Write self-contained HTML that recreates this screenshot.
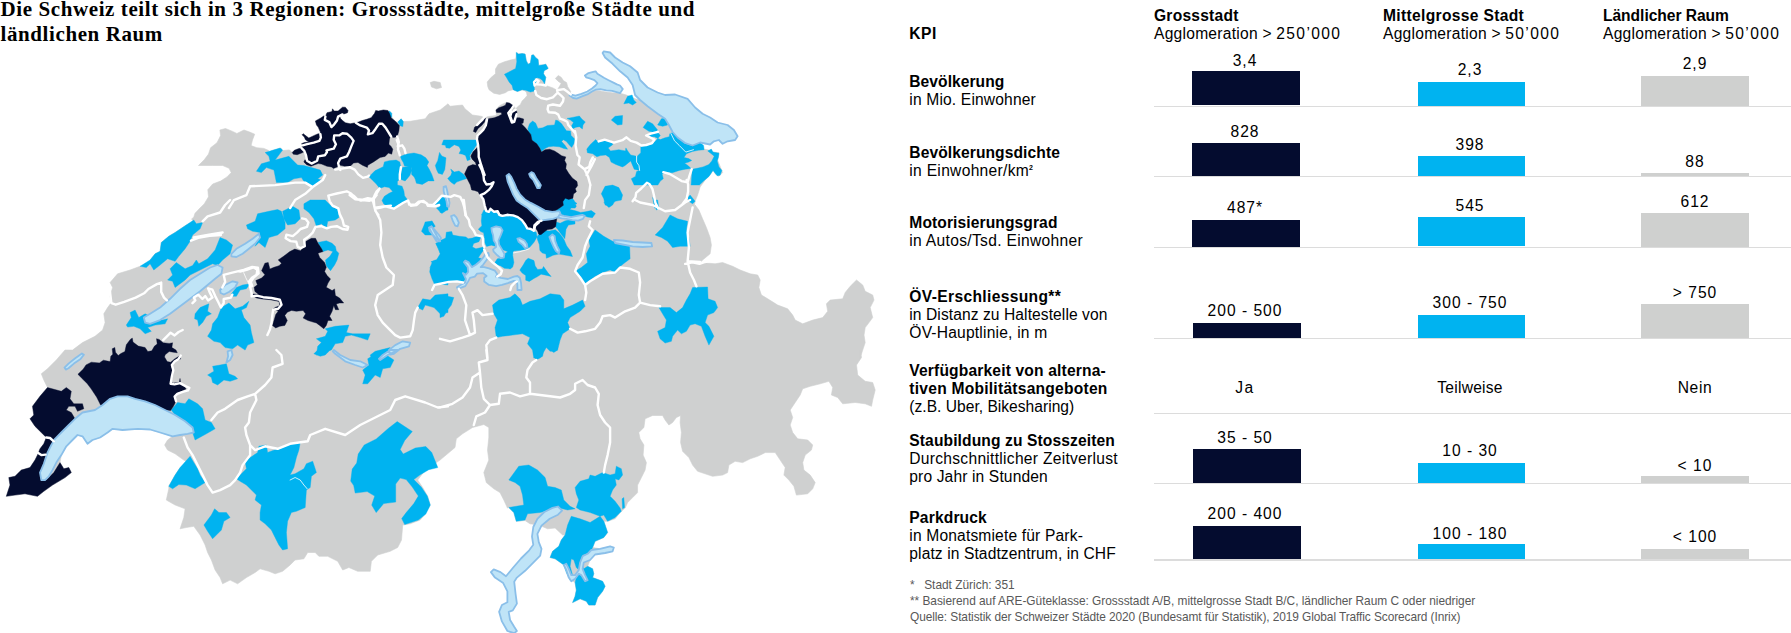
<!DOCTYPE html>
<html lang="de"><head><meta charset="utf-8"><title>Die Schweiz teilt sich in 3 Regionen</title>
<style>
html,body{margin:0;padding:0;background:#fff;}
body{width:1791px;height:633px;position:relative;overflow:hidden;font-family:"Liberation Sans",sans-serif;color:#000;}
.title{position:absolute;font-family:"Liberation Serif",serif;font-weight:bold;font-size:21px;line-height:24.4px;letter-spacing:0.6px;white-space:nowrap;color:#000;}
.t{position:absolute;font-size:15.6px;line-height:18px;white-space:nowrap;letter-spacing:0.3px;}
.t.b{font-weight:bold;letter-spacing:0.3px;}
.t.h2{letter-spacing:0.25px;}
.n{letter-spacing:1.35px;}
.t.v{text-align:center;letter-spacing:1px;}
.t.v.w{letter-spacing:0.3px;}
.sup{font-size:7px;position:relative;top:-6px;font-weight:bold;}
.ln{position:absolute;left:1154px;width:637px;height:1.4px;background:#dcdcdc;}
.bar{position:absolute;}
.dk{background:#040c2f;}
.bl{background:#00b3f0;}
.gr{background:#cfd0cf;}
.fn{position:absolute;font-size:11.9px;line-height:14px;white-space:nowrap;color:#585858;}
#map{position:absolute;left:0;top:0;width:900px;height:633px;}
</style></head><body>
<svg id="map" width="900" height="633" viewBox="0 0 900 633">
<path fill="#cfd0d0" stroke="#cfd0d0" stroke-width="0.6" stroke-linejoin="round" d="M200 208 L204.2 203.9 L208.5 196.8 L207.8 189.7 L212.7 184 L220.6 181.1 L227 176.9 L231.2 172.6 L229.1 168.3 L222.7 165.5 L212.7 165.5 L198.5 165.5 L204.2 159.8 L208.5 154.1 L210.6 147.7 L217 142.7 L220.6 135.6 L219.9 130 L225.5 128.5 L232.6 131.4 L236.9 133.5 L244 130 L249.7 132.1 L254.7 134.2 L252.5 139.9 L251.1 145.6 L256.8 147.7 L263.9 148.4 L268.9 150.6 L264.6 154.1 L272.4 150.6 L281 148.1 L282.4 150.6 L289.5 149.9 L292.3 152.7 L292.2 152.5 L294.4 150.3 L298.3 148.7 L301.6 148.1 L302.7 145.3 L301.6 143.7 L304.3 142.6 L308.8 142 L305.5 139.8 L304.3 137 L302.1 134.8 L303.2 133.7 L308.8 138.1 L314.3 135.4 L318.2 133.7 L320.4 134.3 L320.4 132.1 L318.2 127.1 L316.5 124.9 L315.4 121 L320.4 118.2 L323.7 116 L325.4 116.6 L327 112.7 L332 111.6 L332.5 108.8 L334.2 111.1 L338.1 111.1 L342.5 107.2 L345.3 107.2 L348 110.5 L347.5 112.7 L342.5 114.4 L339.7 115.5 L340.3 118.2 L342.5 120.5 L345.3 122.7 L350.2 123.8 L355.8 122.7 L358.5 122.1 L362.4 120.5 L366.8 119.3 L371.2 117.7 L374.6 113.3 L375.7 110.5 L378.4 111.1 L383.4 110 L387.8 110.5 L389.5 111.1 L391.7 113.3 L391.7 117.1 L395.6 121.6 L397.8 122.1 L401.1 118.8 L403.3 121.6 L410.2 121.3 L425.2 118.8 L429 113.8 L440.2 110 L448 103.8 L450 106.3 L462.5 105 L465 108.8 L472.5 115 L481.3 116.3 L483.8 117.5 L490 116.3 L496.3 115.5 L496.1 109.2 L499.6 105.7 L505.5 102.7 L510.9 103.9 L514.4 106.3 L515.6 109.2 L517.4 106.9 L520.4 104.5 L522.1 100.9 L525.1 98 L527.1 95.6 L526.6 92.7 L525.1 90.9 L522.1 89.9 L517.4 91.5 L513.2 89.7 L507.9 90.9 L505.5 92.7 L499.6 94.4 L493.7 93.2 L489 89.7 L487.8 86.7 L487.2 82 L490.7 77.8 L495.5 73.7 L495.5 69 L498.4 64.2 L504.4 61.8 L510.3 60.1 L515.6 58.9 L516.8 52.4 L518.6 54.1 L522.1 53.6 L525.1 54.1 L526.3 60.7 L528.1 64.2 L530.4 63 L531.6 55.3 L533.4 54.7 L535.8 57.7 L538.1 59.5 L538.7 65.4 L543.5 64.8 L545.8 64.2 L548.2 68.4 L544.1 70.7 L543.5 73.7 L545.8 77.3 L544.6 83.8 L545.8 85.5 L552.9 87.9 L557.1 90.3 L560 85.5 L561.2 83.2 L558.3 81.4 L555.3 78.4 L558.3 75.5 L561.2 77.3 L563.6 80.8 L566.6 82.6 L567.7 86.7 L570.7 91.5 L570.1 94.4 L576.6 97.4 L582.6 95.6 L588.5 92.7 L594.4 90.3 L600.3 90.9 L606.3 92.1 L612.2 92.7 L620 93.2 L626.3 95 L635.1 98.8 L640.1 100 L647.6 106.3 L657.6 113.8 L665.1 118.8 L668.9 125 L672.6 132.5 L677.6 137.5 L685.1 143.8 L692.6 146.3 L700.1 143.8 L702.6 148.8 L708.9 150.1 L712.6 152.1 L718.9 152.6 L717.6 160.1 L720.6 167.6 L722.6 172.6 L718.9 176.3 L715.1 173.8 L713.1 170.1 L710.1 175.1 L705.1 180.1 L700.1 187.1 L697.6 195.1 L695.1 201.3 L693.9 208.1 L695.1 205 L698.9 210 L702.6 218.8 L706.4 227.5 L710.1 237.5 L711.4 245 L710.1 253.8 L702.6 260 L700.1 262.5 L715.1 263.8 L722.6 262.5 L732.6 266.3 L740.2 270 L750.2 273.8 L757.7 275 L760.2 280 L758.9 287.5 L761.4 295 L767.7 298.8 L777.7 305.1 L787.7 308.8 L792.7 315.1 L795.2 320.1 L802.7 323.8 L812.7 320.1 L822.7 317.6 L827.7 311.3 L826.4 303.8 L830.2 300.1 L842.7 298.8 L845.2 292.5 L850.2 286.3 L856.5 280 L862.7 285 L865.2 291.3 L872.7 295 L874 300.1 L870.2 307.6 L872.7 317.6 L869 322.6 L865.2 327.6 L864 335.1 L865.2 342.6 L862.7 350.1 L860.2 358.1 L860.2 350 L861.5 357.5 L856.5 365 L857.7 375 L865.2 381.3 L872.7 382.5 L875.2 390 L872.7 400 L871.5 406.3 L865.2 403.8 L855.2 402.5 L842.7 403.8 L837.7 397.5 L831.4 395 L832.7 387.5 L828.9 381.3 L820.2 383.8 L810.2 386.3 L802.7 388.8 L800.2 395 L795.2 402.5 L790.2 410 L792.7 417.5 L790.2 425 L792.7 432.5 L797.7 438.8 L807.7 440 L812.7 445 L811.4 450.1 L805.2 455.1 L802.7 462.6 L803.9 470.1 L810.2 475.1 L815.2 482.6 L812.7 488.8 L807.7 493.8 L796.4 495.1 L793.9 486.3 L788.9 480.1 L783.9 475.1 L785.2 467.6 L780.2 460.1 L775.2 452.6 L765.2 452.6 L757.7 456.3 L750.2 458.8 L742.7 462.6 L735.1 461.3 L728.9 465.1 L727.6 472.6 L722.6 475.1 L712.6 476.3 L705.1 473.8 L697.6 471.3 L692.6 465.1 L688.9 457.6 L682.6 451.3 L680.6 442.5 L681.4 432.5 L680.1 422.5 L680.6 415.5 L676.4 417.5 L672.6 422.5 L668.9 425 L665.1 420 L662.6 415.5 L652.6 415.5 L645.1 418.8 L643.9 427.5 L638.8 432.5 L640.1 438.8 L643.9 445 L643.1 455.1 L646.4 462.6 L645.1 470.1 L641.4 477.6 L637.6 485.1 L637.6 492.6 L632.6 497.6 L627.6 502.6 L625.1 508.1 L625.1 508 L620.1 512.5 L615.1 518.8 L607.6 521.3 L603.8 521.3 L605.1 525 L607.6 532.5 L603.8 537.5 L595.1 541.3 L592.6 547.5 L600.1 548.8 L610.1 546.3 L613.8 547.5 L612.6 551.3 L605.1 553 L595.1 554.5 L590.1 560 L587.6 566.3 L592.6 568.8 L593.8 573.8 L592.6 577.6 L602.6 581.3 L605.1 586.3 L602.6 591.3 L597.6 597.6 L595.1 605.1 L588.8 605.1 L586.3 601.3 L580.1 598.8 L572.6 602.6 L575.1 596.3 L576.3 590.1 L575.1 582.6 L571.3 580.1 L568.8 573.8 L565.1 566.3 L562.6 563.8 L555.1 558.8 L550.1 557.5 L552.6 551.3 L558.8 546.3 L561.3 540 L565.1 535 L562.6 535 L555.1 528 L547.6 528.8 L538.8 525 L530 523.8 L525 520.5 L516.3 521.3 L513.8 512.5 L508.8 507.5 L507.5 508.1 L503.8 500.1 L500 492.6 L493.8 488.8 L486.3 482.6 L483.8 472.6 L488.8 460.1 L487.5 450.1 L488.8 437.5 L488.8 427.5 L483.8 424.5 L472.5 427.5 L462.5 433.8 L456.3 438.8 L455 447.5 L447.5 453.8 L440 460.1 L425.2 470 L417.7 480 L422.7 487.5 L427.7 496.3 L430.2 505 L425.2 513.8 L420.2 520 L410.2 523.8 L402.7 525 L401.5 540 L397.7 547.5 L390.2 551.3 L377.7 555 L371.4 561.3 L370.2 571.3 L357.7 571.3 L348.9 567.5 L342.7 570 L337.7 561.3 L327.7 556.3 L318.9 556.3 L315.2 552.5 L307.7 552.5 L303.9 558.8 L295.1 560 L290.1 565 L282.6 571.3 L275.1 573.8 L268.9 571.3 L260.1 568.8 L255.1 572.5 L246.4 577.6 L237.6 583.8 L230.1 580.1 L222.6 583.8 L220.1 577.6 L215.1 570 L211.4 560 L207.6 552.5 L205.1 545 L200.1 535 L193.8 526.3 L186.3 527.5 L180.1 528.8 L183.8 517.5 L185.1 508.8 L175.1 505 L166.3 500 L168.8 488.8 L168.8 486.3 L175.1 475.1 L180.1 467.6 L188.8 462.6 L183.8 460.1 L175.1 453.8 L167.6 450.1 L164.6 445 L167.6 440 L172.6 436.3 L160.1 432.5 L150.1 429.5 L137.6 428.8 L122.6 430 L112.6 428.8 L107.6 432.5 L100.1 437.5 L92.5 440 L87.5 443.8 L82.5 436.3 L77.5 435 L72.5 440 L66.3 446.3 L61.3 455.1 L60 462.6 L63.8 468.8 L68.8 467.6 L71.3 472.6 L65 477.6 L52.5 485.1 L43.8 491.3 L37.5 496.3 L25 493.8 L15 495.1 L6.3 496.3 L10 485.1 L8.8 477.6 L15 476.3 L21.3 470.1 L30 467.6 L35 460.1 L37.5 455.1 L40 448.8 L43.8 443.8 L46.3 437.5 L41.3 432.5 L35 426.3 L30 418.8 L33.8 415 L32.5 406.3 L40 396.3 L47.5 387.5 L43.8 380 L41.3 373.8 L47.5 368.8 L56.3 360 L65 350 L72.5 350.1 L82.5 342.6 L95 336.3 L102.6 330.1 L105.1 322.6 L103.8 313.8 L107.6 307.6 L111.3 302.6 L110.1 296.3 L112.6 287.5 L110.1 282.5 L117.6 273.8 L130.1 270 L140.1 266.3 L146.3 267 L150.1 260 L155.1 253.8 L160.1 251.3 L161.3 242.5 L168.8 236.3 L175.1 232.5 L186.3 225 L193.8 221.3 L191.5 219.2 L193.8 216.9 L195 213.3Z M430.2 82.5 L434 81.3 L440.2 82.5 L441.5 87.5 L436.5 88.8 L431.5 87Z"/>
<path fill="#00b3f0" stroke="#00b3f0" stroke-width="0.4" stroke-linejoin="round" d="M265.1 152.6 L280.1 148 L282.6 150.1 L275.1 160.1 L288.9 156.3 L295.1 162.6 L297.6 165.1 L303.9 165.6 L311.4 167.6 L320.2 170.1 L322.7 175.1 L317.7 178.8 L321.4 180.1 L312.7 186.3 L303.9 181.3 L301.4 177.6 L293.9 178.8 L287.6 182.6 L276.4 182.6 L273.9 170.1 L266.4 167.6 L261.4 172.6 L256.4 171.3 L261.4 163.8 L270.1 161.3 L268.9 156.3Z M611.3 120 L615.1 116.3 L622.6 115.5 L622.1 124.5 L617.6 125Z M623.8 103.8 L627.6 96.3 L632.1 95 L633.8 100 L636.3 102.5 L632.6 105 L628.8 103Z M643.1 127.5 L647.6 121.3 L652.6 123.8 L657.6 130 L655.1 132.5 L648.9 131.3Z M657.6 125 L661.4 118.8 L666.4 118 L667.6 125 L662.6 126.3Z M601.3 193.8 L605.1 186.3 L612.6 185.1 L618.8 187.6 L622.6 195.1 L621.3 200.1 L615.1 201.3 L610.1 206.3 L605.1 205.1 L603.8 198.8Z M687.6 197.6 L690.1 195.1 L695.1 201.3 L692.6 203.8 L688.9 201.3Z M655.1 200.1 L657.6 208.1 L654.6 208.1 L652.6 197.6Z M562.6 200.1 L567.6 197.6 L573.8 200.1 L576.3 206.3 L575.1 208.1 L563.8 208.1Z M140.1 266.3 L150.1 260 L155.1 253.8 L160.1 251.3 L161.3 242.5 L168.8 236.3 L175.1 232.5 L186.3 225 L193.8 220 L196.3 223.8 L202.6 222.5 L200.1 228.8 L192.6 235 L190.1 241.3 L185.1 248.8 L178.8 256.3 L175.1 261.3 L167.6 258.8 L160.1 265 L153.8 270 L150.1 263.8 L146.3 267.5Z M167.6 280 L172.6 275 L170.1 268.8 L176.3 262.5 L185.1 268.8 L192.6 265.5 L196.3 260 L198.8 263.8 L207.6 258.8 L215.1 250 L220.1 237.5 L226.4 240 L232.6 245 L230.1 253.8 L222.6 260 L217.6 265.5 L212.6 263.8 L205.1 267.5 L197.6 271.3 L190.1 275 L185.1 280 L175.1 287.5 L172.6 281.3Z M246.4 225 L255.1 221.3 L257.6 213.8 L268.9 211.3 L277.6 209.5 L281.4 211.3 L285.1 222.5 L285.1 228.8 L277.6 235 L268.9 237.5 L265.1 247.5 L258.9 242.5 L255.1 246.3 L260.1 232.5 L252.6 231.3 L247.6 228.8Z M282.6 211.3 L292.6 206.3 L298.9 210 L300.2 218.8 L295.1 223.8 L287.6 225 L283.9 218.8Z M303.9 203.8 L310.2 200 L325.2 200 L332.7 207.5 L337.7 208.8 L338.9 217.5 L335.2 220 L327.7 221.3 L326.4 228.8 L321.4 223.8 L316.4 226.3 L313.9 218.8 L308.9 212.5 L303.9 208.8Z M126.3 325.1 L131.3 317.6 L130.1 312.6 L135.1 310.1 L138.8 317.6 L145.1 313.8 L152.6 317.6 L162.6 320.1 L167.6 318.8 L165.1 323.8 L155.1 325.1 L147.6 327.6 L151.3 331.3 L145.1 333.8 L140.1 328.8 L133.8 326.3 L127.6 327.1Z M195.1 313.8 L200.1 307.6 L208.9 303.8 L207.6 311.3 L211.4 313.8 L206.4 316.3 L202.6 322.6 L198.8 326.3 L197.6 320.1 L194.6 318.8Z M231.4 293.8 L236.4 287.5 L242.6 285 L250.1 283.8 L246.4 288.8 L240.1 290 L236.4 296.3 L232.6 296.3Z M221.4 307.6 L228.9 303.1 L235.1 308.8 L242.6 306.3 L248.9 301.3 L246.4 307.6 L241.4 310.1 L243.9 317.6 L250.1 325.1 L251.4 332.6 L253.9 342.6 L247.6 345.1 L245.1 350.1 L237.6 345.1 L232.6 348.8 L225.1 347.6 L220.1 342.6 L213.9 341.3 L207.6 336.3 L211.4 330.1 L212.6 323.8 L217.6 317.6Z M325.2 328.8 L335.2 326.3 L348.9 325.1 L346.4 332.6 L352.7 333.8 L370.2 333.8 L367.7 340.1 L360.2 337.6 L351.4 335.1 L345.2 336.3 L342.7 342.6 L335.2 343.8 L331.4 350.1 L325.2 351.3 L316.4 355.1 L317.7 346.3 L321.4 342.6 L316.4 338.8 L325.2 336.3 L327.7 331.3Z M402.7 200 L397.7 203.8 L390.2 206.3 L383.9 201.3Z M435.2 203.8 L440.2 200 L448 200 L448 210 L442.7 211.3 L440.2 206.3Z M421.5 231.3 L425.2 222.5 L431.5 221.3 L435.2 226.3 L430.2 227.5 L432.7 235 L425.2 235Z M436.5 243.8 L448 241.3 L448 285 L437.7 283.8 L432.7 277.5 L430.2 267.5 L436.5 260 L440.2 253.8Z M417.7 307.6 L422.7 298.8 L430.2 300.1 L435.2 295 L448 293.8 L448 312.6 L440.2 313.8 L434 307.6 L425.2 305.1 L422.7 310.1Z M370.2 355.1 L375.2 351.3 L385.2 348.8 L390.2 347.6 L385.2 353.8 L380.2 358.1 L371.4 358.1Z M595.1 230 L603.8 236.3 L612.6 241.3 L622.6 242.5 L629.6 245 L630.1 258.8 L625.1 262.5 L618.8 267.5 L615.1 272.5 L610.1 270 L602.6 272.5 L595.1 276.3 L590.1 280 L585.1 285 L580.1 277.5 L575.1 271.3 L581.3 267.5 L587.6 262.5 L586.3 253.8 L590.1 246.3 L588.8 240Z M655.1 235 L662.6 227.5 L670.1 215 L677.6 218.8 L687.6 221.3 L686.4 230 L688.9 237.5 L690.1 246.3 L680.1 246.3 L672.6 247.5 L667.6 241.3 L661.4 237.5Z M692.6 287.5 L707.6 287 L708.1 298.8 L715.1 301.3 L717.6 307.6 L713.9 312.6 L707.6 315.1 L705.1 322.6 L708.9 326.3 L713.9 336.3 L708.9 345.1 L705.1 336.3 L701.4 326.3 L695.1 323.8 L690.1 325.1 L686.4 331.3 L681.4 333.8 L677.6 330.1 L672.6 336.3 L671.4 341.3 L665.1 343.1 L660.1 338.8 L657.6 331.3 L665.1 327.6 L666.4 320.1 L662.6 313.8 L658.9 307.6 L670.1 307.6 L676.4 312.6 L682.6 307.6 L686.4 300.1 L690.1 293.8Z M492.5 305.1 L498.8 300.1 L510 297.5 L515 293.8 L520 298.8 L522.5 305.1 L530 301.3 L540.1 298.8 L550.1 293.8 L560.1 295 L563.8 300.1 L563.8 308.8 L572.6 305.1 L582.6 300.1 L585.1 306.3 L580.1 311.3 L570.1 317.6 L567.6 322.6 L570.1 328.8 L562.6 333.8 L560.1 340.1 L557.6 350.1 L550.1 351.3 L546.3 347.6 L540.1 358.1 L533.8 358.1 L532.5 350.1 L527.5 343.8 L530 337.6 L522.5 333.8 L512.5 335.1 L502.5 336.3 L496.3 337.6 L495 327.6 L497.5 320.1 L493.8 313.8Z M440 298.8 L447.5 296.3 L453.8 297.5 L451.3 305.1 L447.5 310.1 L443.8 316.3 L440 317.6Z M603.8 202.5 L607.6 200 L615.1 200 L612.6 205 L608.8 207.5Z M653.9 200 L657.6 200 L658.9 208.8 L656.4 210Z M440 201.3 L445 202.5 L446.3 210 L440 212.5Z M171.3 410 L177.6 402.5 L185.1 403.8 L188.8 398.8 L197.6 403.8 L202.6 408.8 L205.1 420 L211.4 422.5 L215.1 428.8 L206.4 433.8 L195.1 440 L192.6 432.5 L192.6 427.5 L185.1 421.3 L175.1 415Z M190.1 456.3 L193.8 462.6 L197.6 468.8 L200.1 475.1 L205.1 482.6 L195.1 488.8 L186.3 485.1 L178.8 484.6 L172.6 488.8 L168.8 486.3 L175.1 475.1 L180.1 467.6Z M207.6 375 L213.9 371.3 L212.6 366.3 L220.1 365 L226.4 363.8 L228.9 373.8 L235.1 376.3 L237.6 378.8 L230.1 381.3 L223.9 380 L217.6 385 L212.6 382.5 L211.4 377.5Z M313.9 353.8 L317.7 350 L330.2 350 L325.2 355 L320.2 356.3Z M362.7 383.8 L365.2 375 L362.7 370 L368.9 365 L367.7 358.8 L373.9 355 L382.7 350 L390.2 350 L386.4 355 L393.9 360 L390.2 367.5 L382.7 368.8 L380.2 377.5 L375.2 375 L367.7 383.8Z M533.8 350 L543.8 350 L542.6 356.3 L536.3 360 L533.8 355Z M550.1 350 L557.6 350 L553.8 352.5Z M203.9 525 L211.4 515 L214.6 508.8 L218.9 512.5 L226.4 512.5 L230.1 517.5 L223.9 521.3 L221.4 530 L212.6 538.8 L207.6 531.3Z M236.4 478.8 L246.4 468.7 L245.1 461.2 L257.6 452.5 L258.9 446.2 L266.4 445 L267.6 452.5 L277.6 448.7 L290.1 443.7 L300.2 442.5 L298.9 450 L296.4 457.5 L293.9 467.5 L290.1 475 L295.1 473.7 L303.9 468.7 L306.4 463.7 L312.7 461.2 L316.4 472.5 L311.4 476.3 L310.2 487.5 L306.4 490 L305.2 507.5 L296.4 511.3 L291.4 512.5 L287.6 521.3 L286.4 532.5 L287.6 548.8 L282.6 550 L278.9 545 L275.1 537.5 L271.4 530 L265.1 523.8 L260.1 520 L260.1 512.5 L261.4 505 L255.1 500 L256.4 495 L251.4 490 L246.4 485 L240.1 481.3Z M508.8 480 L518.8 466.2 L528.8 465 L537.5 470 L545.1 477.5 L547.6 486.3 L555.1 487.5 L561.3 490 L563.8 500 L570.1 506.3 L575.1 508.8 L567.6 510 L557.6 507.5 L550.1 510 L540.1 512.5 L527.5 513.8 L525 520 L516.3 521.3 L513.8 512.5 L508.8 507.5 L523.8 505 L522.5 495 L520 486.3 L515 482.5Z M575.1 487.5 L580.1 481.3 L588.8 478.8 L590.1 475 L595.1 476.3 L602.6 472.5 L610.1 475 L615.1 473.7 L616.3 466.2 L621.3 468.7 L622.6 475 L618.8 480 L615.1 478.8 L616.3 485 L612.6 490 L610.1 496.3 L615.1 501.3 L620.1 508 L621.3 511.3 L615.1 517.5 L607.6 521.3 L603.8 515 L600.1 516.3 L590.1 512.5 L580.1 510 L576.3 507.5 L578.8 500 L576.3 493.8Z M571.3 516.3 L580.1 518.8 L590.1 522.5 L600.1 516.3 L603.8 521.3 L605.1 525 L607.6 532.5 L603.8 537.5 L595.1 541.3 L592.6 547.5 L590.1 552.5 L582.6 555 L580.1 561.3 L583.8 568.8 L587.6 566.3 L592.6 568.8 L593.8 573.8 L592.6 577.6 L602.6 581.3 L605.1 586.3 L602.6 591.3 L597.6 597.6 L595.1 605.1 L588.8 605.1 L586.3 601.3 L580.1 598.8 L572.6 602.6 L575.1 596.3 L576.3 590.1 L575.1 582.6 L576.3 577.6 L580.1 571.3 L576.3 567.5 L573.8 560 L571.3 558.8 L570.1 566.3 L572.6 575.1 L570.1 580.1 L566.3 572.5 L563.8 565 L555.1 558.8 L550.1 557.5 L552.6 551.3 L558.8 546.3 L561.3 540 L565.1 535 L567.6 525Z M622.1 498.8 L623.8 497.5 L624.6 507.5 L622.6 508.8Z M369 176.7 L374.9 170.8 L383.2 166.7 L384.4 161.9 L389.1 160.7 L396.2 160.1 L399.8 161.9 L400.9 167.3 L399.2 174.4 L399.8 179.1 L397.4 181.5 L397.4 185 L402.1 186.2 L403.9 190.9 L404.5 195.7 L408.1 200.4 L403.3 202.8 L398.6 204.6 L393.8 208.7 L387.9 206.4 L383.8 204 L382 200.4 L384.4 196.3 L389.1 193.3 L392.7 191.5 L389.1 187.4 L384.4 186.8 L379.6 188.6 L377.8 192.1 L379 187.4 L376.1 183.8 L372.5 180.3Z M399.8 179.1 L400.9 172 L402.7 167.3 L408.1 166.7 L411 166.7 L411.6 170.8 L409.8 175.5 L406.9 179.1 L405.1 180.9Z M400.4 156.6 L405.7 154.2 L414 153 L421.1 154.8 L425.8 157.8 L428.8 161.9 L427 165.5 L429.4 169.6 L431.8 174.4 L434.1 180.9 L428.2 180.9 L422.3 184.4 L416.4 183.2 L415.2 179.1 L414 176.7 L411.6 174.4 L411.6 167.8 L409.2 166.7 L404.5 166.1 L403.3 162.5 L401.5 159.5Z M435.3 165.5 L437.7 160.7 L439.5 152.4 L441.8 156 L446 157.8 L445.4 163.7 L444.8 169.6 L442.4 174.4 L438.3 173.2 L436.5 169.6Z M450.7 169 L454.3 172 L459 171 L463.7 174.4 L466.7 178.5 L461.4 180.3 L456.6 182.1 L454.3 184.4 L450.7 182.1 L447.7 178.5 L450.7 175.5 L451.9 172.6Z M433.5 204.6 L437.7 200.4 L441.8 195.7 L444.8 198.1 L447.7 197.5 L448.3 202.8 L444.8 206.4 L445.4 211.1 L441.8 213.5 L438.3 209.9 L436.5 208.1 L440.6 206.4 L440 204.6Z M441.8 144.7 L443.6 140 L477.4 140 L477.4 143.6 L474.4 148.3 L472 151.8 L469.7 155.4 L470.3 159.5 L467.3 160.7 L465.5 155.4 L462.6 154.2 L459 153.6 L460.8 150.1 L459 146.5 L454.3 144.7 L449.5 148.3 L446 147.7 L445.4 145.3Z M481.5 215 L483.9 209.9 L487.4 212.3 L491 208.1 L495.7 211.7 L498.1 215Z M516.2 52.4 L518.6 54.1 L522.1 53.6 L525.1 54.1 L526.3 60.7 L528.1 64.2 L530.4 63 L531.6 55.3 L533.4 54.7 L535.8 57.7 L538.1 59.5 L538.7 65.4 L543.5 64.8 L545.8 64.2 L548.2 68.4 L544.1 70.7 L543.5 73.7 L545.8 77.3 L544.6 83.8 L542.3 80.2 L539.9 78.4 L537.5 77.8 L534.6 78.4 L536.4 82 L534 85 L534.6 90.9 L530.4 92.1 L525.7 90.3 L522.1 89.7 L517.4 91.5 L513.2 89.7 L512.1 85.5 L509.1 82 L506.7 77.8 L504.4 74.3 L510.3 71.3 L515.6 68.4 L516.8 61.8Z M586.8 149.1 L590.4 144.4 L595.7 139.6 L598.1 142 L604.6 141 L610.5 140.8 L612.9 144.4 L608.2 147.9 L610.5 150.9 L618.8 149.7 L625.4 150.9 L625.9 147.9 L627.7 150.9 L630.7 155 L636.6 156.2 L636.6 162.1 L639 165.7 L639.6 170.4 L634.2 169.2 L630.7 160.9 L624.8 165.7 L622.4 166.9 L615.9 164.5 L611.1 162.1 L609.4 157.4 L605.8 155 L600.5 155.6 L596.9 156.8 L592.8 153.8 L587.4 152.7Z M640.8 146.7 L646.1 145.5 L652 144.4 L655.6 140.8 L657.9 138.4 L660.3 139.6 L665 137.8 L669.2 136.7 L669.8 133.7 L672.7 132.5 L677.5 137.5 L684.6 143.5 L692.3 146.1 L699.4 142 L703.6 145.5 L704.1 149.7 L698.2 150.3 L692.3 151.5 L686.4 153.8 L684 157.4 L688.7 158.6 L691.7 160.4 L688.7 162.1 L684.6 163.3 L688.2 165.7 L691.1 168.6 L685.2 169.2 L679.3 170.4 L672.2 172.8 L665 172.2 L662.1 174 L663.3 178.7 L660.3 181.1 L657.9 185 L634.2 185 L631.3 178.7 L635.4 176.4 L636.6 171.6 L639.6 170.4 L639 165.7 L636.6 162.1 L637.2 156.2 L640.8 152.7Z M649.1 135.5 L653.2 133.1 L657.9 132.5 L660.3 135.5 L657.9 138.4 L654.4 136.7 L650.8 136.7Z M707.7 150.9 L711.3 149.1 L713 152.1 L719 153.2 L718.4 157.4 L717.2 160.9 L719 166.9 L721.9 170.4 L720.1 175.2 L717.2 175.8 L713 170.4 L708.9 176.4 L703.6 181.1 L699.4 185 L691.1 185 L691.7 176.4 L692.3 169.2 L698.2 168.1 L703 166.9 L708.9 164.5 L711.8 160.9 L714.2 156.2 L711.3 153.8Z M435.7 243.4 L440.4 240.5 L445.7 238.1 L446.3 232.2 L451.7 231.6 L452.8 235.1 L459.4 236.3 L465.9 236.9 L468.2 238.7 L472.4 238.1 L477.1 236.3 L480.7 237.5 L478.9 241.7 L473.6 243.4 L472.4 247 L475.9 248.8 L483.6 247 L484.2 249.4 L480.7 254.1 L478.3 257.7 L481.9 258.8 L478.3 262.4 L474.8 265.9 L471.2 267.1 L468.8 262.4 L465.3 260.6 L462.9 261.8 L467.1 265.9 L468.2 271.9 L465.9 275.4 L462.9 273.1 L465.3 279 L462.9 282.5 L457 281.4 L448.7 281.9 L440.4 283.7 L434.5 284.3 L432.1 279 L429.7 271.9 L430.3 267.1 L432.1 262.4 L430.9 261.8 L438 258.8 L441.6 256.5 L439.2 250.5Z M481.9 215 L497.3 215 L500.8 216.8 L507.9 216.2 L515 216.2 L519.8 218.6 L523.3 222.1 L525.7 226.8 L531.6 228 L536.4 232.8 L537 236.9 L534 242.3 L529.9 247 L525.7 249.4 L518.6 250.5 L513.3 251.1 L507.9 251.7 L502 249.4 L496.1 246.4 L491.4 245.2 L486.6 246.4 L484.8 242.8 L484.2 236.3 L483.6 232.8 L480.7 231.6 L478.3 229.2 L481.9 225.7 L481.3 220.9Z M494.9 262.4 L497.3 258.8 L500.8 258.2 L503.8 257.7 L504.4 254.1 L507.9 251.7 L513.3 251.1 L512.7 255.3 L513.9 262.4 L512.7 267.1 L510.3 268.9 L504.4 268.3 L500.8 265.9 L497.3 264.8Z M537 236.9 L538.7 234.5 L544.7 230.4 L549.4 231 L555.3 229.8 L558.9 232.8 L562.4 236.9 L564.2 239.9 L566.6 245.8 L570.1 250.5 L572.5 256.5 L566 255.3 L558.9 254.1 L553 255.3 L549.4 257.1 L546.4 258.2 L545.9 254.1 L542.3 252.9 L539.9 250.5 L539.3 244.6 L537.6 239.9Z M519.8 270.1 L523.3 264.8 L525.7 260.6 L528.1 258.2 L534 260.6 L535.2 265.9 L537.6 269.5 L542.3 268.9 L543.5 266.5 L548.2 273.1 L551.2 276.6 L547 275.4 L541.1 274.2 L537.6 276.6 L534 278.4 L529.3 281.4 L525.7 280.2 L525.7 275.4 L522.2 273.1Z M425 222.1 L429.7 221.5 L432.1 220.9 L435.1 226.3 L433.3 228 L430.3 226.8 L428.6 231.6 L425 234.5Z M556.5 222.1 L560.1 223.3 L564.8 220.9 L569.5 219.7 L575 220.3 L575 223.9 L568.4 225.1 L566 229.2 L565.4 234 L564.8 238.7 L560.1 232.8 L557.7 229.2 L555.3 226.8Z M386.7 113.3 L389.5 111.1 L391.7 113.3 L391.7 117.1 L388.9 118.2Z M397.8 122.1 L401.1 118.8 L403.3 121.6 L402.8 126.5 L400.5 126Z M527.9 128.4 L529.6 123.7 L532.6 121.1 L535.6 123.1 L537.9 128.4 L542.7 127.8 L547.4 125.5 L554.5 124.9 L555.7 120.1 L558.1 120.7 L561.6 123.7 L564 127.3 L566.4 130.8 L570.5 131 L571.1 135.5 L574.7 139.1 L574.1 143.2 L571.7 147.4 L569.3 145 L566.4 141.5 L563.4 139.7 L561.6 141.5 L565.2 145.6 L567.6 149.2 L564 148.6 L559.3 146.8 L553.3 146.2 L548.6 146.8 L545 148.6 L541.5 151.5 L539.7 147.4 L536.8 143.8 L532 140.3 L530.8 134.4 L528.5 131.4Z M567 118.4 L573.5 117.2 L579.4 116 L581.8 119 L585.3 121.9 L583 124.9 L582.4 129 L579.4 126.7 L575.9 127.3 L572.3 129 L571.7 125.5 L573.5 122.5 L570.5 120.1Z M563.4 198.2 L567.6 198.8 L572.3 198.2 L574.7 201.7 L577 203.5 L572.3 206.5 L569.9 209.4 L574.7 210.6 L580.6 212.4 L585.3 211.8 L591.3 210.6 L595.4 213.6 L592.4 217.7 L587.7 217.1 L584.7 215.9 L582.4 214.8 L577 215.9 L571.1 217.1 L564 215.9 L560.5 213.6 L559.3 211.2 L555.7 210.6 L559.3 208.2 L563.4 205.3 L562.8 201.7Z M318 242.4 L326.3 240.8 L332.1 243.3 L335.4 246.6 L336.3 250.7 L338.8 253.2 L337.1 259.9 L334.6 264.9 L330.5 270.7 L326.3 265.7 L325.5 259.9 L329.6 256.6 L332.9 251.6 L328 249.9 L323 251.6 L321.3 248.3Z M397.2 421.6 L412.3 431.5 L404.7 440.5 L400.2 449.5 L403.2 454.1 L415.3 448 L425.8 446.5 L431.8 452.6 L437.8 467.6 L428.8 469.7 L419.8 475.1 L413.8 479.6 L421.3 487.1 L427.3 496.1 L430.3 505.1 L425.8 514.1 L418.3 520.1 L404.7 524.6 L401.7 518.6 L406.2 512.6 L413.8 503.6 L418.3 496.1 L412.3 487.1 L406.2 479.6 L400.2 478.1 L395.7 484.1 L395.7 502.1 L383.7 503.6 L376.2 512.6 L371.7 505.1 L374.7 496.1 L367.2 491.6 L355.2 493.1 L353.7 485.6 L350.7 481.1 L352.2 469.1 L356.7 463.1 L358.2 454.1 L364.2 445 L376.2 439 L388.2 428.5Z"/>
<path fill="#040c2f" stroke="#040c2f" stroke-width="0.4" stroke-linejoin="round" d="M47.5 387.5 L61.3 391.3 L66.3 387.5 L71.3 391.3 L70 398.8 L73.8 403.8 L82.5 403.8 L83.8 408.8 L77.5 411.3 L75 406.3 L68.8 406.3 L66.3 410 L71.3 412.5 L75 418.8 L68.8 425 L61.3 432.5 L55 438.8 L51.3 445 L47.5 452.6 L43.8 463.8 L40 472.6 L41.3 480.1 L46.3 480.1 L53.8 472.6 L60 462.6 L63.8 468.8 L68.8 467.6 L71.3 472.6 L65 477.6 L52.5 485.1 L43.8 491.3 L37.5 496.3 L25 493.8 L15 495.1 L6.3 496.3 L10 485.1 L8.8 477.6 L15 476.3 L21.3 470.1 L30 467.6 L35 460.1 L37.5 455.1 L40 448.8 L43.8 443.8 L46.3 437.5 L41.3 432.5 L35 426.3 L30 418.8 L33.8 415 L32.5 406.3 L40 396.3Z M470.9 156.6 L473.2 151.8 L477.4 148.3 L478.6 151.8 L478 156.6 L478.6 161.3 L475 161.9 L472.6 159.5Z M535.2 225.7 L538.7 223.3 L543.5 222.1 L550.6 221.5 L555.3 222.1 L554.7 226.8 L550.6 228 L547 229.2 L544.7 231.6 L541.1 234.5 L538.7 234 L537.6 230.4 L535.8 228Z M292.2 152.5 L294.4 150.3 L298.3 148.7 L301.6 148.1 L302.7 145.3 L301.6 143.7 L304.3 142.6 L308.8 142 L305.5 139.8 L304.3 137 L302.1 134.8 L303.2 133.7 L308.8 138.1 L314.3 135.4 L318.2 133.7 L320.4 134.3 L320.4 132.1 L318.2 127.1 L316.5 124.9 L315.4 121 L320.4 118.2 L323.7 116 L325.4 116.6 L327 112.7 L332 111.6 L332.5 108.8 L334.2 111.1 L338.1 111.1 L342.5 107.2 L345.3 107.2 L348 110.5 L347.5 112.7 L342.5 114.4 L339.7 115.5 L340.3 118.2 L342.5 120.5 L345.3 122.7 L350.2 123.8 L355.8 122.7 L358.5 122.1 L362.4 120.5 L366.8 119.3 L371.2 117.7 L374.6 113.3 L375.7 110.5 L378.4 111.1 L383.4 110 L387.8 110.5 L389.5 113.3 L391.1 117.7 L395.6 121.6 L399.4 125.4 L398.9 131 L397.2 136.5 L393.9 137.6 L391.1 136.5 L389.5 138.7 L388.9 144.2 L391.1 146.4 L392.8 149.2 L391.7 154.2 L388.4 153.1 L385.1 156.4 L380.1 157.5 L373.5 161.9 L367.9 165.2 L367.4 167.4 L362.4 165.2 L358 162.5 L353.6 163 L350.2 166.3 L344.7 166.3 L340.3 165.2 L337 166.9 L333.7 168.6 L331.4 166.9 L327 166.3 L321.5 164.1 L318.2 163.6 L313.7 165.2 L311 166.3 L306.6 164.7 L303.8 161.9 L304.9 159.7 L307.1 160.8 L306 155.3 L303.8 152 L301.6 153.1 L297.2 154.7 L293.3 154.2Z M468 166.4 L472.8 164.6 L476.3 165.2 L475.1 161.6 L472.2 159.2 L471 155.7 L473.4 151.5 L476.9 148 L478.1 145 L476.9 139.1 L477.5 135.5 L480.5 132.6 L483.4 129.6 L485.8 125.5 L487.6 121.3 L487 119.5 L489.4 118.4 L494.1 117.8 L498.8 116 L501.8 114.2 L501.2 112.4 L496.5 112.4 L495.9 110.1 L498.8 107.7 L502.4 106.5 L505.4 105.3 L506.5 102.4 L509.5 103 L511.9 104.7 L513.6 105.9 L513.1 108.3 L510.7 110.1 L514.2 111.3 L516.6 110.7 L517.2 114.2 L516 117.8 L519.6 117.8 L523.7 119 L523.1 123.1 L521.4 123.7 L524.9 127.3 L527.9 130.8 L530.8 134.4 L532 140.3 L536.8 143.8 L539.7 148 L541.5 152.1 L545 149.8 L549.8 149.2 L554.5 150.9 L558.1 153.3 L561.6 155.7 L565.8 156.9 L564.6 160.4 L566.4 164 L565.8 168.6 L568.7 173.3 L572.3 178 L577 181.6 L577.6 185.7 L575.3 188.7 L576.4 191.7 L573.5 194 L572.9 198.2 L568.7 199.4 L565.2 198.2 L562.8 201.7 L563.4 205.3 L559.3 208.2 L555.7 210.6 L555.7 212.4 L559.3 212.4 L560.5 214.8 L556.9 218.3 L556.3 221.9 L555.7 226.6 L552.2 229 L547.4 229.6 L542.7 233.1 L539.7 234.9 L537.9 231.4 L535.6 227.8 L533.8 230.8 L530.8 229 L527.3 228.4 L524.9 224.2 L521.9 220.1 L517.8 217.1 L513.1 215.4 L507.1 214.8 L502.4 215.9 L499.4 214.8 L497.7 211.2 L494.1 211.8 L490.5 208.8 L488.8 211.8 L486.4 211.2 L484.6 205.3 L483.4 199.4 L479.9 195.2 L478.1 191.7 L474.5 190.5 L471.6 189.9 L470.4 185.1 L467.4 179.2 L464.5 173.9 L466.8 169.1Z M473.4 131.4 L474.5 127.3 L478.7 124.3 L483.4 120.7 L484.6 117.2 L485.8 117.8 L484.6 121.9 L481.7 125.5 L478.1 128.4 L475.7 132.6Z M305.6 241.6 L311.4 238.3 L315.5 238.3 L318 243.3 L321.3 248.3 L323 251.6 L318 253.2 L319.7 257.4 L324.6 262.4 L326.3 267.3 L324.6 271.5 L327.1 275.6 L330.5 279 L328 283.1 L326.3 287.3 L332.1 290.6 L334.6 288.9 L335.4 295.6 L339.6 298 L343.7 303 L339.6 303 L336.3 303.9 L338.8 309.7 L335.4 309.7 L333.8 305.5 L332.1 311.3 L329.6 316.3 L332.1 320.5 L328 320.5 L326.3 325.4 L323.8 328.8 L319.7 325.4 L316.3 322.9 L313 322.1 L308 320.5 L303.1 318 L305.6 313.8 L303.1 310.5 L296.4 311.3 L291.5 310.5 L287.3 312.2 L284.8 315.5 L287.3 320.5 L284.8 325.4 L279.8 326.3 L275.7 327.9 L272.4 325.4 L274 320.5 L275.7 314.6 L278.2 311.3 L273.2 308.8 L275.7 307.2 L279.8 305.5 L279 301.4 L269.9 299.7 L261.6 298.9 L256.6 298 L252.4 295.6 L253.3 293.9 L259.1 294.7 L254.9 291.4 L254.1 287.3 L257.4 284.8 L255.8 280.6 L261.6 278.1 L264.9 274.8 L261.6 270.7 L264.9 263.2 L268.2 262.4 L269.9 269 L274 267.3 L279 265.7 L281.5 263.2 L278.2 259.9 L283.2 256.6 L289.8 251.6 L294.8 249.1 L300.6 250.7 L303.9 246.6Z M77.9 374.3 L83.3 369 L86 364.9 L91.3 362.2 L99.4 362.9 L103.4 360.2 L110.1 361.6 L110.8 356.2 L112.8 354.2 L112.2 348.8 L114.8 347.5 L115.5 352.2 L118.2 355.5 L120.9 353.5 L124.9 351.5 L126.3 344.8 L130.3 339.4 L132.3 338.1 L133 342.1 L138.3 346.1 L145.1 347.5 L147.8 351.5 L151.8 350.8 L154.5 346.1 L157.2 344.1 L156.5 338.7 L159.2 339.4 L163.2 342.8 L169.2 343.4 L172.6 342.8 L171.9 347.5 L176 350.1 L177.3 352.8 L173.3 352.2 L169.2 351.5 L165.2 354.8 L164.5 356.9 L167.2 361.6 L170.6 362.2 L174.6 358.9 L180 355.5 L180.7 358.9 L177.3 360.2 L173.9 362.2 L171.3 366.9 L173.3 370.3 L172.6 375.7 L170.6 382.4 L173.3 383.1 L179.3 382.4 L180 378.4 L180.7 383.1 L184.7 386.4 L186 389.1 L182 391.1 L177.3 393.1 L174.6 395.8 L176 401.2 L173.3 406.6 L170.6 410.6 L165.2 409.9 L159.8 407.2 L153.1 405.2 L147.8 402.5 L141 399.8 L134.3 398.5 L128.9 396.5 L123.6 398.5 L118.2 397.2 L112.8 399.2 L107.5 403.2 L103.4 406.6 L100.7 405.2 L96.7 397.2 L91.3 389.1 L87.3 383.7 L83.3 379.7Z"/>
<path fill="#bfe4f7" stroke="#8abfe9" stroke-width="1.8" stroke-linejoin="round" d="M603.8 51.3 L610.1 52.5 L615.1 57.5 L622.6 62.5 L630.1 66.3 L637.6 72.5 L640.1 80 L647.6 87.5 L657.6 92.5 L665.1 95 L675.1 94.5 L687.6 98.8 L695.1 107.5 L702.6 113.8 L710.1 117.5 L717.6 122.5 L727.6 125 L733.9 130 L737.6 136.3 L735.1 140 L727.6 141.3 L722.6 143.8 L718.9 140 L713.9 141.3 L710.1 144.5 L700.1 142.5 L692.6 145.5 L685.1 143 L677.6 137.5 L672.6 132 L668.9 125 L665.1 118.8 L657.6 113.8 L647.6 106.3 L640.1 100 L635.1 95 L632.6 85 L627.6 77.5 L620.1 71.3 L612.6 63.8 L605.1 57.5 L602.6 53Z M143.8 317.6 L150.1 313.8 L160.1 307.6 L170.1 298.8 L180.1 288.8 L190.1 280 L200.1 273.8 L210.1 267.5 L217.6 265 L222.6 267.5 L221.4 273.8 L215.1 278.8 L207.6 285 L200.1 291.3 L190.1 298.8 L180.1 306.3 L170.1 313.8 L160.1 320.1 L150.1 323.8 L145.1 322.6Z M231.4 253.8 L236.4 248.8 L245.1 243.8 L252.6 238.8 L258.9 233.8 L260.1 237.5 L255.1 243.8 L248.9 248.8 L242.6 253.8 L236.4 257 L231.4 256.3Z M220.1 290 L225.1 285 L232.6 281.3 L237.6 282.5 L235.1 287.5 L228.9 292 L223.9 294.5 L220.6 293Z M388.9 350.1 L395.2 345.1 L402.7 341.3 L410.2 342.6 L409 346.3 L400.2 348.8 L393.9 353.8 L390.2 354.6Z M429 227.5 L431.5 226.3 L437.7 237.5 L440.2 241.3 L436.5 241.3 L432.7 235Z M613.8 240 L622.6 240.5 L632.6 242 L642.6 242.5 L651.4 243 L652.1 246.3 L642.6 247 L632.6 246.3 L622.6 244.5 L615.1 243Z M41.3 480.1 L40 472.6 L43.8 463.8 L47.5 452.6 L51.3 445 L55 438.8 L61.3 432.5 L68.8 425 L75 418.8 L82.5 412.5 L95 410 L102.6 405 L110.1 398.8 L117.6 396.3 L127.6 396.3 L135.1 398.8 L145.1 401.3 L155.1 405 L165.1 410 L175.1 415 L185.1 421.3 L192.6 427.5 L193.8 432.5 L187.6 433.8 L180.1 435 L172.6 436.3 L160.1 432.5 L150.1 429.5 L137.6 428.8 L122.6 430 L112.6 428.8 L107.6 432.5 L100.1 437.5 L92.5 440 L87.5 443.8 L82.5 436.3 L77.5 435 L72.5 440 L66.3 446.3 L61.3 455.1 L56.3 462.6 L52.5 470.1 L48.8 476.3 L45 480.1Z M333.9 350 L340.2 355 L350.2 360 L360.2 361.3 L367.7 365 L362.7 367.5 L355.2 365 L345.2 361.3 L335.2 353.8 L332.7 351.3Z M378.9 358.8 L382.7 355 L390.2 350 L397.7 350 L387.7 355 L380.2 360Z M227.6 351.3 L231.4 350 L232.6 355 L230.1 360 L226.4 362.5 L228.1 356.3Z M591.3 550 L600.1 548.8 L610.1 546.3 L613.8 547.5 L612.6 551.3 L605.1 553 L595.1 554.5 L590.1 560 L583.8 562.5 L582.6 568.8 L585.1 575.1 L587.6 580.1 L585.1 581.3 L581.3 575.1 L578.8 573.8 L575.1 578.8 L571.3 581.3 L568.8 577.6 L566.3 570 L563.8 565 L566.3 563.8 L568.8 568.8 L571.3 575.1 L575.1 575.1 L578.8 570 L580.1 562.5 L582.6 556.3 L587.6 553.8Z M443.6 186.8 L446 186.2 L447.2 190.9 L448.3 196.9 L449.5 202.8 L448.9 206.9 L447.2 206.4 L446.6 201.6 L444.8 195.7 L443.6 190.9Z M584.9 75.5 L588.5 73.1 L593.2 71.9 L595.6 71.3 L597.4 73.7 L600.3 75.5 L603.9 77.8 L608.6 80.2 L613.4 82.6 L616.9 84.4 L620 85.5 L622.8 89.1 L620 93.2 L612.2 90.9 L606.3 90.3 L600.3 89.1 L595.6 89.7 L592 91.5 L587.3 94.4 L582.6 96.2 L576.6 98.6 L573.1 98 L569.5 95.6 L570.1 94.4 L575.5 95.6 L581.4 93.8 L587.3 91.5 L592 88.5 L595.6 85.5 L597.4 83.2 L594.4 80.2 L589.7 78.4 L586.1 77.3Z M457 287.3 L460.5 284.9 L465.3 282.5 L465.9 279 L464.1 275.4 L462.9 273.1 L465.9 274.8 L468.2 271.9 L467.7 267.1 L464.1 262.4 L465.3 260.6 L468.8 262.4 L471.8 267.1 L475.9 264.8 L480.1 261.2 L483.1 257.7 L485.4 254.1 L488.4 252.9 L489 255.3 L486.6 260 L483.1 264.8 L480.7 267.1 L484.2 267.1 L489 268.3 L494.9 270.7 L497.3 274.2 L496.1 276.6 L500.8 277.8 L507.9 279 L513.9 276.6 L517.4 276 L519.8 277.8 L521 282.5 L521.6 290 L517.4 290 L517.4 284.9 L516.8 281.4 L513.9 280.8 L507.9 283.1 L502 284.9 L496.1 286.1 L489 284.9 L484.2 281.4 L484.2 277.8 L486.6 276 L483.1 273.1 L477.1 273.6 L474.8 276.6 L470 277.8 L468.2 281.4 L465.3 286.1 L460.5 287.9 L457.6 288.5Z M491.4 228 L496.1 226.3 L500.8 227.4 L502.6 230.4 L500.8 235.1 L498.5 240.5 L499.1 244.6 L502 249.4 L504.4 254.1 L503.8 257.7 L500.8 258.2 L497.3 255.3 L493.7 251.7 L493.1 249.4 L496.1 247 L495.5 243.4 L493.7 240.5 L493.1 235.1 L491.9 231.6Z M517.4 238.7 L519.8 238.1 L524.5 240.5 L526.9 244 L527.5 247.6 L525.1 248.2 L522.2 244.6 L518.6 241.7Z M549.4 236.9 L552.4 234.5 L554.7 236.3 L555.3 241.1 L557.1 245.8 L559.5 250.5 L558.9 253.5 L555.9 251.1 L553.6 247 L551.2 241.7Z M451.1 216.2 L454 215 L456.4 217.4 L458.8 222.7 L457.6 226.3 L455.2 225.7 L452.8 220.9Z M429.1 228 L431.5 226.3 L435.1 230.4 L438.6 234.5 L441 238.1 L439.8 240.5 L436.3 238.7 L432.7 234.5 L429.7 231Z M506.5 175.7 L508.9 173.9 L511.3 176.8 L514.2 182.8 L516.6 188.7 L520.2 194.6 L524.9 199.4 L530.8 202.9 L537.9 206.5 L545 210.6 L552.2 211.8 L559.3 211.2 L560.5 213.6 L558.1 217.1 L553.3 218.9 L548.6 219.5 L543.9 220.1 L540.3 220.7 L536.8 217.1 L532 212.4 L527.3 207.7 L521.4 204.1 L516.6 200.5 L513.1 194.6 L510.1 187.5 L507.7 181.6Z M559.3 214.8 L564 215.9 L571.1 217.1 L577 215.9 L582.4 214.8 L584.7 215.9 L583 218.9 L578.2 220.7 L572.3 220.1 L566.4 218.9 L561.6 218.3 L558.1 217.7Z M529.1 173.9 L531.4 172.1 L533.8 173.3 L536.2 178 L539.1 182.2 L540.9 185.1 L539.7 188.1 L537.3 188.1 L535.6 184.5 L533.2 179.8 L530.2 176.8Z M64.5 367.6 L68.5 363.6 L75.2 358.2 L81.9 353.5 L83.9 354.8 L80.6 358.9 L73.9 363.6 L68.5 368.3 L65.8 369.6Z M552.5 507.9 L558 506.5 L562.1 510.6 L558 514.7 L549.7 518.8 L541.5 525.6 L537.4 533.9 L538.8 542.1 L541.5 548.9 L540.2 555.7 L533.3 562.6 L525.1 570.8 L516.9 577.6 L514.2 581.7 L515.6 594 L516.9 603.6 L512.8 610.4 L508.7 611.8 L510.1 620 L514.2 626.8 L516.9 631 L514.2 633.1 L507.4 631 L501.9 621.4 L499.1 611.8 L501.9 605 L507.4 602.2 L507.4 591.3 L503.2 583.1 L495 577.6 L490.9 572.1 L493.7 569.4 L500.5 572.1 L506 576.2 L512.8 568 L521 558.5 L529.2 550.3 L533.3 544.8 L532 536.6 L533.3 527 L537.4 518.8 L544.3 512Z"/>
<path fill="none" stroke="#fff" stroke-width="2.4" stroke-linejoin="round" stroke-linecap="round" d="M568.3 125 L572.6 130 L575.1 133 M590.3 185.1 L588.8 195.1 L585.1 200.1 L583.8 208.1 M228.9 208.1 L233.9 200.1 L240.1 197.6 L246.4 195.1 L250.1 186.3 L275.1 185.1 L295.1 182.6 L305.2 182.6 L312.7 187.1 L322.7 180.1 L325.2 175.1 M312.7 187.1 L305.2 193.8 L295.1 200.1 L290.1 208.1 M335.2 169.6 L350.2 167.3 M202.6 221.3 L207.6 216.3 L220.1 212.5 L225.1 205 L230.1 200 M193.8 237.5 L207.6 235 L222.6 232.5 M372.7 200 L375.2 210 L380.2 220 L381.4 232.5 L380.2 245 L382.7 257.5 L386.4 267.5 L393.9 275 L392.7 285 L385.2 290 L377.7 295 L375.2 305.1 L377.7 315.1 L382.7 322.6 L388.9 328.8 L395.2 335.1 L400.2 337.6 L410.2 336.3 L412.7 330.1 L414 320.1 L415.2 312.6 L417.7 307.6 M463.8 200 L465 210 L466 215.5 M590.1 221.3 L588.8 226.3 L592.6 230 L587.6 240 L585.1 246.3 L582.6 257.5 L577.6 265 L575.1 271.3 L580.1 277.5 L585.1 285 L586.3 292.5 L585.1 300.1 M585.1 285 L590.1 281.3 L602.6 273.8 L615.1 272.5 L620.1 267.5 L630.1 268.8 L638.8 272.5 L640.1 282.5 L638.8 295 L640.1 302.6 L635.1 307.6 L625.1 311.3 L615.1 317.6 L610.1 315.1 L602.6 316.3 L600.1 322.6 L595.1 328.8 L585.1 331.3 L577.6 332.6 L570.1 328.8 M692.6 207.5 L690.1 220 L687.6 232.5 L688.9 247.5 L687.6 261.3 L690.1 272.5 L693.9 280 L696.4 286.3 M640.1 302.6 L650.1 305.1 L660.1 306.3 M687.6 261.3 L700.1 262 M487.5 358.1 L486.3 345.1 L490 340.1 L496.3 337.6 M440 338.8 L450 341.3 L462.5 337.6 L470 335.1 L465 320.1 L466.3 305.1 L462.5 295 L458.8 288.8 M470 335.1 L475 332.6 L473.8 320.1 L472.5 312.6 L477.5 310.1 L482.5 315.1 L492.5 313.8 M635.1 200 L640.1 202.5 L652.6 205 L665.1 211.3 L675.1 210 L685.1 202.5 L690.1 200 M276.4 350 L281.4 355 L282.6 363.8 L272.6 367.5 L271.4 377.5 L265.1 385 L255.1 393.8 L247.6 396.3 L237.6 400 L225.1 408.8 L217.6 412.5 L211.4 420 M255.1 393.8 L256.4 400 L250.1 412.5 L248.9 422.5 L245.1 427.5 L246.4 435 L250.1 445 L250.1 455.1 L242.6 465.1 L240.1 472.6 L235.1 480.1 L230.1 485.1 L220.1 490.1 L212.6 492.6 L207.6 485.1 L202.6 475.1 L197.6 465.1 L192.6 455.1 L187.6 447.5 L183.8 437.5 M250.1 445 L255.1 450.1 L265.1 446.3 L277.6 448.8 L290.1 443.8 L307.7 441.3 L310.2 435 L325.2 428.8 L345.2 435 L360.2 425 L375.2 417.5 L390.2 410 L395.2 400 L405.2 396.3 L425.2 402.5 L437.7 407.5 L448 406.3 M46.3 437.5 L50 438 L53.8 441.3 M37.5 452.6 L41.3 455.1 L45.5 454.6 M486.3 350 L487.5 360 L478.8 362.5 L480 372.5 L472.5 377.5 L470 387.5 L462.5 397.5 L452.5 403.8 L440 407.5 M480 372.5 L481.3 387.5 L483.8 398.8 L490 405 L498.8 403.8 L500 393.8 L510 392.5 L520 396.3 L530 393.8 L540.1 395 L550.1 396.3 L560.1 397.5 L570.1 393.8 L575.1 390 L575.1 383.8 L582.6 380 L587.6 385 L595.1 387.5 L598.8 393.8 L597.6 405 L600.1 415 L605.1 422.5 L610.1 427.5 L610.1 442.5 L607.6 455.1 L605.1 465.1 L603.8 472.6 M530 393.8 L530 382.5 L526.3 377.5 L527.5 370 L532.5 362.5 L536.3 360 M490 405 L485 412.5 L476.3 416.3 L473.8 425 M396.8 140 L398.6 144.7 L398 149.5 L399.2 153 L399.8 155.4 M400.9 167.3 L399.8 174.4 L399.8 179.1 M350 167.3 L354.7 169.6 L358.3 174.4 L363 177.9 L367.8 176.7 L369 175.5 M379.6 188.6 L376.7 193.3 L373.7 199.2 L374.3 206.4 L375.5 211.1 L378.4 215 M350 193.3 L353.6 195.7 L357.1 199.2 L361.8 199.8 L367.8 198.1 L373.1 199.2 M375.5 208.7 L380.8 207.5 L385.5 206.4 L393.8 208.7 L403.3 202.8 L408.1 200.4 L409.2 204.6 L415.2 204.6 L418.7 201.6 L423.5 201 L428.2 204.6 L432.9 205.2 L437.7 200.4 L441.8 195.7 L450.7 196.9 L454.3 195.1 L460.2 196.9 L462.6 201.6 L464.3 207.5 L465.5 215 M534.6 85.5 L534 82 L536.4 79.6 L538.7 81 L536.4 84.4 L541.1 84.6 L545.8 85.5 M535.2 90.9 L536.4 95 L541.1 98 L547 99.2 L552.9 97.4 L555.3 95 L557.7 92.7 L557.1 90.3 M557.7 92.7 L561.2 95.6 L563.6 98 L563 101.5 L560 105.7 L552.9 104.5 L548.2 105.7 L547.6 109.2 L548.8 112.2 L555.3 112.8 L558.3 114.6 L560 118.7 L563.6 119.9 L567.2 121.7 L568.3 125 M557.1 90.3 L563.6 89.1 L567.2 91.5 L570.7 94.4 M515.6 109.8 L511.5 112.2 L510.3 116.4 L512.1 121.7 L514.4 121.1 M477.1 125 L480.7 121.1 L484.2 117.5 L485.4 116.4 M598.7 141.4 L604.6 139.6 L614.1 142.6 L622.4 140.2 L626.5 137.3 L630.7 140.8 L636.6 142.6 L641.4 145.5 L646.1 145 L652 143.2 L654.4 139.6 L650.8 137.8 L646.1 135.5 L650.8 133.7 L657.9 131.9 M575 131.3 L576.2 137.3 L575.6 145.5 L577.4 155 L579.7 157.4 L578.6 164.5 L584.5 169.2 L588 176.4 L590.4 185 M592.8 157.4 L590.4 162.1 L589.2 166.9 L584.5 169.2 M663.3 172.2 L669.8 174 L675.7 177.5 L681.6 181.1 L687.6 182.3 L689.3 176.4 L691.7 169.2 M465.3 215 L468.8 219.7 L470 225.7 L473.6 230.4 L475.9 235.1 L481.9 236.3 L483.1 238.7 L483.1 244.6 L484.2 247 M484.2 249.4 L487.8 257.7 L492.5 262.4 L498.5 267.1 L502 270.7 L500.8 274.2 L497.3 276.6 M432.1 290 L434.5 284.9 L440.4 283.7 L448.7 281.9 L457 281.4 L462.9 282.5 M510.3 290 L511.5 286.1 L515 282.5 L516.8 281.4 M534 230.4 L535.2 225.7 L538.7 222.7 M110 291.9 L111.4 303.2 L115.7 304.7 L124.2 301.8 L135.6 297.6 L144.1 293.3 L148.4 289 L156.9 284.1 L161.2 282.6 L161.2 291.9 L164 297.6 L166.9 300.4 M191 240.7 L198.2 237.8 L209.5 235.7 L220.9 235 M222.3 287.6 L225.2 281.9 L223.7 274.8 L232.3 272.7 L243.7 269.8 L252.2 267 L257.9 267.7 L258.6 273.4 L253.6 277.7 L250.8 281.9 L252.2 286.2 M192.5 303.2 L195.3 300.4 L193.9 297.6 L198.2 294.7 L202.4 299 L205.3 296.1 L208.1 300.4 L212.4 297.6 L209.5 291.9 L208.1 288.3 L212.4 289.7 L215.2 296.1 L218.1 301.8 L220.9 307.5 L223.7 303.2 L223.7 299 L230.9 297.6 L232.3 294.7 M349.6 195 L355.3 199.3 L362.4 200 L369.5 200.7 L374.5 197.8 L376.6 195 M375.2 207.8 L383.7 206.4 L390.9 205.7 M408.6 202.1 L410.8 205.7 L416.5 205 L420.7 201.4 L426.4 202.8 L427.8 205.7 L434.9 206.4 L439.2 205 M325.4 116.6 L324.8 119.9 L329.2 122.1 L331.4 127.1 L334.2 124.3 L337 120.5 L338.1 116.6 L342.5 114.4 M355.8 122.7 L360.2 125.4 L366.8 127.6 L369 130.4 L367.9 134.3 L372.4 133.2 L375.7 128.7 L379 123.8 L382.3 123.8 L385.6 127.6 L388.4 132.1 L391.1 136.5 M302.7 145.3 L307.1 144.2 L313.7 142.6 L319.3 140.9 L320.9 137.6 L320.4 134.3 M301.6 148.1 L304.3 150.9 L306 155.3 L307.1 160.8 L311.5 163.6 L317.1 160.8 L318.2 156.4 L324.8 155.3 L327 152 L326.5 150.3 L333.7 148.7 L335.9 144.2 L333.7 139.8 L334.2 135.4 L339.2 135.4 L342.5 133.2 L346.9 133.7 L351.3 137.6 L353.6 140.9 L351.3 146.4 L349.1 152 L346.9 156.4 L340.3 158.6 L338.1 163 L339.2 167.4 L340.3 170 M397.2 136.5 L398.9 142 L397.8 146.4 L402.2 145.3 L404.4 148.7 L405.5 153.1 M487 119.5 L485.8 125.5 L483.4 129.6 L480.5 132.6 L477.5 135.5 L476.9 139.1 L478.1 145 L478.7 152.1 L478.7 156.9 L480.5 162.8 L482.8 169.9 L484.6 175 M513.6 105.9 L510.7 110.1 L508.3 113 L510.1 117.8 L511.9 122.5 L514.2 121.9 L515.4 117.8 L516.6 114.2 M594.8 159.2 L591.3 166.4 L586.5 175 M479.3 165 L481.7 169.7 L483.4 175.1 L484 180.4 L486.4 184.5 L490.5 184 L493.5 182.2 L491.7 186.3 L488.8 189.9 L484.6 193.4 L480.5 195.2 L483.4 199.4 L484.6 205.3 L486.4 211.2 L488.8 211.8 L490.5 208.8 L494.1 211.8 L497.7 211.2 L499.4 214.8 L502.4 215.9 L507.1 214.8 L513.1 215.4 L517.8 217.1 L521.9 220.1 L524.9 224.2 L527.3 228.4 L530.8 229 L533.8 230.8 M533.8 230.8 L534.4 225.4 L537.9 221.9 L541.5 220.7 M250 286.4 L251.6 293.1 L251.6 296.4 L256.6 295.6 L263.2 297.2 L271.5 298 L279.8 299.7 L281.5 304.7 L278.2 308.8 L273.2 309.7 L272.4 314.6 L271.5 322.9 L269.9 329.6 L267.4 335.1 M240 271.5 L246.6 269.8 L253.3 267.3 L257.4 269.8 L256.6 274.8 L251.6 278.1 L249.1 281.5 L250 286.4 M180.7 355.5 L178.6 358.9 L174.6 361.6 L171.9 364.9 L173.3 370.3 L171.9 376.3 L170.6 383.7 L174.6 384.4 L180 383.1 L186 386.4 L189.4 387.8 L188 390.4 L182.7 391.8 L177.3 393.8 L174.6 396.5 L176 401.2 M163.2 340.1 L167.9 335.4 L170.6 332.7 L174.6 335.4 L178.6 332 L182.7 330 M632.6 201.3 L635.5 197.1 L636.2 192.8 L641.2 188.5 L646.9 182.8 L649.7 184.3 L652.5 189.2 L654 195.6 L655.4 202.7 L658.2 208.4 M682.4 204.2 L686.7 198.5 L688.1 191.4 L688.1 184.3 L686.7 180 M685.2 263.9 L692.3 262.4 L699.5 263.9 L703.7 262.4 L709.4 261 L712.2 256.8 M328.3 195.6 L336.8 193.5 L346.8 191.3 L351.1 193.5 L355.3 198.4 L361 200.6 L366.7 199.2 L372.4 200.6 L374.5 195.6 L376.7 191.3 L379.5 188.5 M328.3 195.6 L329.7 201.3 L332.6 205.6 L338.3 208.4 L339.7 214.1 L342.5 219.8 L343.9 225.5 L348.2 226.9 L347.5 229.7 L342.5 229 L336.8 226.2 L331.1 226.9 L326.9 228.3 L321.2 226.2 L315.5 226.9 L312.7 232.6 L308.4 236.8 L304.1 239.7 L304.8 246.1 L300.6 248.2 L297.7 246.8 L296.3 241.8 L290.6 241.1 L285.6 238.3 L286.4 234.7 L292.8 236.1 L297 232.6 L300.6 229 L307 226.9 L308.4 222.6 L305.6 219.1 L302 218.4"/>
<path fill="none" stroke="#fff" stroke-width="0.8" stroke-linejoin="round" stroke-linecap="round" d="M290.1 480 L295.1 477.5 L300.2 480 L303.9 485 L307.2 488.8 M636.6 156.2 L636.6 162.1 L639 165.7 L639.6 170.4 M671 133.7 L674.5 140.8 L679.3 145.5 L685.8 152.1 L693.5 149.7 M513.3 252.9 L519.8 251.7 L525.7 250 L529.3 248.8 M243.7 272.7 L245.8 277.7 L248.6 283.3"/>
</svg>
<div class="title" style="left:0.5px;top:-2.9px">Die Schweiz teilt sich in 3 Regionen: Grossstädte, mittelgroße Städte und<br>ländlichen Raum</div>
<div class="t b" style="left:909.3px;top:24.6px;letter-spacing:0.5px;">KPI</div>
<div class="t b" style="left:1154px;top:6.6px;letter-spacing:0.23px;">Grossstadt</div>
<div class="t h2" style="left:1154px;top:24.6px;">Agglomeration &gt; <span class="n">250’000</span></div>
<div class="t b" style="left:1383px;top:6.6px;letter-spacing:0.33px;">Mittelgrosse Stadt</div>
<div class="t h2" style="left:1383px;top:24.6px;">Agglomeration &gt; <span class="n">50’000</span></div>
<div class="t b" style="left:1603px;top:6.6px;letter-spacing:-0.04px;">Ländlicher Raum</div>
<div class="t h2" style="left:1603px;top:24.6px;">Agglomeration &gt; <span class="n">50’000</span></div>
<div class="t b" style="left:909.3px;top:73.3px;letter-spacing:0.05px;">Bevölkerung</div>
<div class="t " style="left:909.3px;top:91.3px;letter-spacing:0.16px;">in Mio. Einwohner</div>
<div class="ln" style="top:105.5px"></div>
<div class="bar dk" style="left:1192px;width:108px;top:71.3px;height:34.2px"></div>
<div class="t v" style="left:1145px;width:200px;top:51.6px;">3,4</div>
<div class="bar bl" style="left:1417.5px;width:107.5px;top:82.0px;height:23.5px"></div>
<div class="t v" style="left:1370px;width:200px;top:60.9px;">2,3</div>
<div class="bar gr" style="left:1641px;width:108px;top:76.0px;height:29.5px"></div>
<div class="t v" style="left:1595px;width:200px;top:55.1px;">2,9</div>
<div class="t b" style="left:909.3px;top:144.3px;letter-spacing:0.09px;">Bevölkerungsdichte</div>
<div class="t " style="left:909.3px;top:162.3px;letter-spacing:0.3px;">in Einwohner/km<span class="sup">2</span></div>
<div class="ln" style="top:176.0px"></div>
<div class="bar dk" style="left:1192px;width:108px;top:142.6px;height:33.4px"></div>
<div class="t v" style="left:1145px;width:200px;top:122.6px;">828</div>
<div class="bar bl" style="left:1417.5px;width:107.5px;top:156.0px;height:20.0px"></div>
<div class="t v" style="left:1370px;width:200px;top:136.0px;">398</div>
<div class="bar gr" style="left:1641px;width:108px;top:173.0px;height:3.0px"></div>
<div class="t v" style="left:1595px;width:200px;top:153.2px;">88</div>
<div class="t b" style="left:909.3px;top:214.4px;letter-spacing:0.1px;">Motorisierungsgrad</div>
<div class="t " style="left:909.3px;top:232.4px;letter-spacing:0.32px;">in Autos/Tsd. Einwohner</div>
<div class="ln" style="top:246.5px"></div>
<div class="bar dk" style="left:1192px;width:108px;top:220.0px;height:26.5px"></div>
<div class="t v" style="left:1145px;width:200px;top:198.6px;">487*</div>
<div class="bar bl" style="left:1417.5px;width:107.5px;top:216.6px;height:29.9px"></div>
<div class="t v" style="left:1370px;width:200px;top:197.2px;">545</div>
<div class="bar gr" style="left:1641px;width:108px;top:213.0px;height:33.5px"></div>
<div class="t v" style="left:1595px;width:200px;top:193.4px;">612</div>
<div class="t b" style="left:909.3px;top:288.2px;letter-spacing:0.35px;">ÖV-Erschliessung**</div>
<div class="t " style="left:909.3px;top:306.2px;letter-spacing:0.08px;">in Distanz zu Haltestelle von</div>
<div class="t " style="left:909.3px;top:324.2px;letter-spacing:0.2px;">ÖV-Hauptlinie, in m</div>
<div class="ln" style="top:337.8px"></div>
<div class="bar dk" style="left:1193px;width:108px;top:322.6px;height:15.2px"></div>
<div class="t v" style="left:1145px;width:200px;top:302.4px;">200 - 500</div>
<div class="bar bl" style="left:1417.5px;width:107.5px;top:314.7px;height:23.1px"></div>
<div class="t v" style="left:1370px;width:200px;top:294.3px;">300 - 750</div>
<div class="bar gr" style="left:1641px;width:108px;top:304.0px;height:33.8px"></div>
<div class="t v" style="left:1595px;width:200px;top:284.2px;">&gt; 750</div>
<div class="t b" style="left:909.3px;top:362.0px;letter-spacing:0.16px;">Verfügbarkeit von alterna-</div>
<div class="t b" style="left:909.3px;top:380.0px;letter-spacing:0.24px;">tiven Mobilitätsangeboten</div>
<div class="t " style="left:909.3px;top:398.0px;letter-spacing:0.01px;">(z.B. Uber, Bikesharing)</div>
<div class="ln" style="top:412.5px"></div>
<div class="t v w" style="left:1145px;width:200px;top:378.6px;letter-spacing:1.52px;">Ja</div>
<div class="t v w" style="left:1370px;width:200px;top:378.6px;letter-spacing:0.24px;">Teilweise</div>
<div class="t v w" style="left:1595px;width:200px;top:378.6px;letter-spacing:0.64px;">Nein</div>
<div class="t b" style="left:909.3px;top:431.6px;letter-spacing:0.11px;">Staubildung zu Stosszeiten</div>
<div class="t " style="left:909.3px;top:449.6px;letter-spacing:0.28px;">Durchschnittlicher Zeitverlust</div>
<div class="t " style="left:909.3px;top:467.6px;letter-spacing:0.13px;">pro Jahr in Stunden</div>
<div class="ln" style="top:482.7px"></div>
<div class="bar dk" style="left:1193px;width:108px;top:449.3px;height:33.4px"></div>
<div class="t v" style="left:1145px;width:200px;top:429.1px;">35 - 50</div>
<div class="bar bl" style="left:1417.5px;width:107.5px;top:463.0px;height:19.7px"></div>
<div class="t v" style="left:1370px;width:200px;top:441.5px;">10 - 30</div>
<div class="bar gr" style="left:1641px;width:108px;top:476.4px;height:6.3px"></div>
<div class="t v" style="left:1595px;width:200px;top:456.6px;">&lt; 10</div>
<div class="t b" style="left:909.3px;top:509.3px;letter-spacing:0.15px;">Parkdruck</div>
<div class="t " style="left:909.3px;top:527.3px;letter-spacing:0.16px;">in Monatsmiete für Park-</div>
<div class="t " style="left:909.3px;top:545.3px;letter-spacing:0.1px;">platz in Stadtzentrum, in CHF</div>
<div class="ln" style="top:559.3px"></div>
<div class="bar dk" style="left:1193px;width:108px;top:526.2px;height:33.1px"></div>
<div class="t v" style="left:1145px;width:200px;top:505.4px;">200 - 400</div>
<div class="bar bl" style="left:1417.5px;width:107.5px;top:544.0px;height:15.3px"></div>
<div class="t v" style="left:1370px;width:200px;top:524.9px;">100 - 180</div>
<div class="bar gr" style="left:1641px;width:108px;top:549.0px;height:10.3px"></div>
<div class="t v" style="left:1595px;width:200px;top:528.2px;">&lt; 100</div>
<div class="fn" style="left:910px;top:577.7px;letter-spacing:0px">*<span style="display:inline-block;width:9.5px"></span>Stadt Zürich: 351</div>
<div class="fn" style="left:910px;top:593.5px;letter-spacing:-0.03px">** Basierend auf ARE-Güteklasse: Grossstadt A/B, mittelgrosse Stadt B/C, ländlicher Raum C oder niedriger</div>
<div class="fn" style="left:910px;top:610.0px;letter-spacing:-0.085px">Quelle: Statistik der Schweizer Städte 2020 (Bundesamt für Statistik), 2019 Global Traffic Scorecard (Inrix)</div>
</body></html>
